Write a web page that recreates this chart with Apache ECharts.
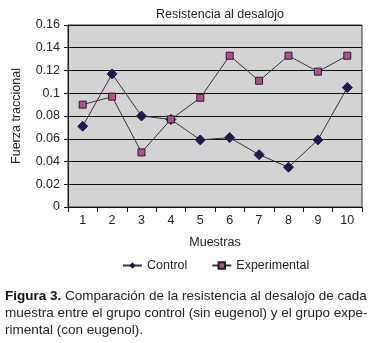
<!DOCTYPE html>
<html>
<head>
<meta charset="utf-8">
<script src="https://cdn.jsdelivr.net/npm/echarts@6/dist/echarts.min.js"></script>
<style>
  html, body { margin: 0; padding: 0; background: #fff; }
  #chart { width: 376px; height: 343px; }
</style>
</head>
<body>
<div id="chart"></div>
<script>
const muestras = ['1', '2', '3', '4', '5', '6', '7', '8', '9', '10'];
const control = [0.071, 0.117, 0.080, 0.077, 0.059, 0.061, 0.046, 0.035, 0.059, 0.105];
const experimental = [0.090, 0.097, 0.048, 0.077, 0.096, 0.133, 0.111, 0.133, 0.119, 0.133];
const captionLines = [
  '{b|Figura 3.} Comparación de la resistencia al desalojo de cada',
  'muestra entre el grupo control (sin eugenol) y el grupo expe-',
  'rimental (con eugenol).'
];

const font = 'Liberation Sans, Arial, sans-serif';
const chart = echarts.init(document.getElementById('chart'));

chart.setOption({
  backgroundColor: '#ffffff',
  animation: false,
  textStyle: { fontFamily: font },
  title: {
    text: 'Resistencia al desalojo',
    left: 215,
    textAlign: 'center',
    top: 3,
    textStyle: { fontSize: 12.5, fontWeight: 'normal', color: '#222', fontFamily: font }
  },
  grid: { left: 68, right: 14, top: 25, bottom: 136, show: true, backgroundColor: '#d3d3d3', borderColor: '#333', borderWidth: 1 },
  legend: {
    orient: 'horizontal',
    top: 254,
    left: 117,
    itemWidth: 19,
    itemHeight: 8,
    itemGap: 24,
    textStyle: { fontSize: 12.5, color: '#222', fontFamily: font },
    data: ['Control', 'Experimental']
  },
  xAxis: {
    type: 'category',
    data: muestras,
    name: 'Muestras',
    nameLocation: 'middle',
    nameGap: 29,
    nameTextStyle: { fontSize: 12.5, color: '#222' },
    axisLine: { lineStyle: { color: '#111' } },
    axisTick: { show: true, length: 5, inside: false, lineStyle: { color: '#111' } },
    axisLabel: { fontSize: 12.5, color: '#222', margin: 7 }
  },
  yAxis: {
    type: 'value',
    min: 0,
    max: 0.16,
    interval: 0.02,
    name: 'Fuerza traccional',
    nameLocation: 'middle',
    nameGap: 45,
    nameTextStyle: { fontSize: 12.5, color: '#222' },
    axisLine: { show: true, lineStyle: { color: '#111' } },
    axisTick: { show: true, length: 4, lineStyle: { color: '#111' } },
    axisLabel: { fontSize: 12.5, color: '#222', margin: 8, formatter: v => String(+v.toFixed(2)) },
    splitLine: { lineStyle: { color: '#111', width: 1 } }
  },
  series: [
    {
      name: 'Control',
      type: 'line',
      data: control,
      symbol: 'diamond',
      symbolSize: 10,
      lineStyle: { color: '#333', width: 1 },
      itemStyle: { color: '#1b1b4f', borderColor: '#1b1b4f' }
    },
    {
      name: 'Experimental',
      type: 'line',
      data: experimental,
      symbol: 'rect',
      symbolSize: 7,
      lineStyle: { color: '#333', width: 1 },
      itemStyle: { color: '#b14f92', borderColor: '#2a1a2a', borderWidth: 1 }
    }
  ],
  graphic: [{
    type: 'text',
    left: 5,
    top: 288,
    style: {
      text: captionLines.join('\n'),
      font: '13.5px ' + font,
      fill: '#222',
      lineHeight: 17,
      rich: {
        b: { fontWeight: 'bold', fontSize: 13.5, fontFamily: font, fill: '#111' }
      }
    }
  }]
});
</script>
</body>
</html>
